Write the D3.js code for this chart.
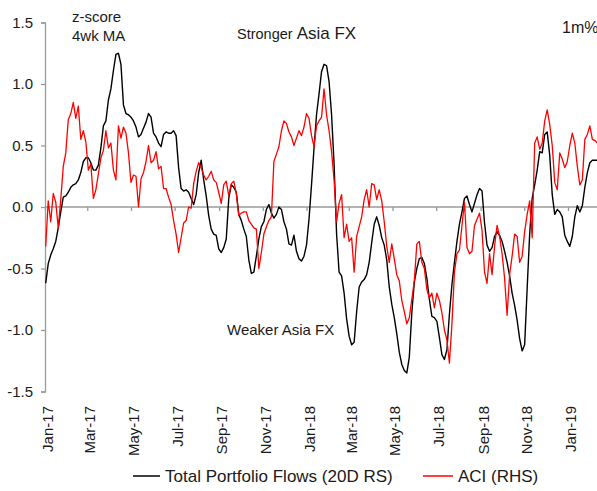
<!DOCTYPE html>
<html>
<head>
<meta charset="utf-8">
<script src="https://cdn.jsdelivr.net/npm/d3@7"></script>
<style>
  html, body { margin: 0; padding: 0; background: #fff; }
  svg { display: block; font-family: "Liberation Sans", Arial, sans-serif; }
</style>
</head>
<body>
<svg id="chart" width="597" height="491"></svg>
<script>
// ---- data ----
const seriesStart = "2017-01-02";   // first observation
const stepHours = 84;               // observations every 3.5 days

const totalPortfolioFlows = [
-0.62,-0.46,-0.39,-0.34,-0.28,-0.17,-0.04,0.08,0.09,0.12,
0.16,0.18,0.19,0.22,0.28,0.37,0.40,0.40,0.36,0.30,
0.30,0.34,0.48,0.66,0.70,0.87,0.96,1.11,1.24,1.25,
1.16,0.83,0.76,0.75,0.73,0.70,0.65,0.57,0.59,0.64,
0.69,0.76,0.73,0.60,0.57,0.52,0.49,0.59,0.61,0.60,
0.60,0.62,0.58,0.32,0.15,0.13,0.14,0.12,0.07,0.02,
0.10,0.28,0.38,0.22,0.09,-0.07,-0.18,-0.22,-0.23,-0.34,
-0.37,-0.33,-0.26,0.07,0.18,0.16,0.12,-0.06,-0.11,-0.18,
-0.24,-0.43,-0.54,-0.53,-0.40,-0.26,-0.16,-0.12,-0.02,0.02,
-0.05,-0.09,-0.06,0.00,-0.02,-0.12,-0.18,-0.30,-0.31,-0.23,
-0.36,-0.42,-0.44,-0.40,-0.31,-0.10,0.18,0.48,0.75,0.92,
1.10,1.16,1.15,1.02,0.75,0.35,-0.22,-0.53,-0.56,-0.70,
-0.91,-1.05,-1.12,-1.10,-0.85,-0.65,-0.61,-0.59,-0.55,-0.45,
-0.29,-0.14,-0.08,-0.15,-0.25,-0.31,-0.43,-0.65,-0.79,-0.90,
-1.03,-1.18,-1.28,-1.33,-1.35,-1.22,-0.86,-0.61,-0.50,-0.42,
-0.41,-0.46,-0.58,-0.75,-0.89,-0.90,-0.93,-1.06,-1.20,-1.24,
-1.16,-0.87,-0.63,-0.45,-0.28,-0.14,-0.04,0.07,0.09,0.02,
-0.04,0.03,0.10,0.15,0.13,-0.13,-0.31,-0.36,-0.33,-0.24,
-0.20,-0.23,-0.28,-0.36,-0.45,-0.56,-0.70,-0.80,-0.92,-1.07,
-1.17,-1.12,-0.66,-0.22,0.07,0.18,0.30,0.45,0.44,0.59,
0.61,0.42,0.10,-0.06,-0.02,-0.04,-0.08,-0.23,-0.28,-0.32,
-0.24,-0.08,0.01,-0.04,0.01,0.16,0.28,0.36,0.38,0.38,
0.38];

const aciRHS = [
-0.32,0.05,-0.12,0.11,0.04,-0.17,0.06,0.33,0.44,0.71,
0.76,0.85,0.72,0.82,0.55,0.62,0.53,0.30,0.35,0.07,
0.14,0.27,0.40,0.46,0.62,0.48,0.52,0.30,0.22,0.66,
0.56,0.65,0.60,0.44,0.20,0.26,0.25,0.00,0.23,0.28,
0.37,0.50,0.36,0.38,0.45,0.31,0.33,0.15,0.15,0.08,
0.02,-0.11,-0.22,-0.37,-0.25,-0.13,-0.11,0.00,-0.01,0.19,
0.29,0.36,0.32,0.26,0.22,0.25,0.29,0.22,0.20,0.12,
0.03,0.18,0.21,0.09,0.19,0.21,0.11,-0.07,-0.05,-0.04,
-0.04,-0.11,-0.14,-0.17,-0.18,-0.50,-0.37,-0.22,-0.16,-0.11,
-0.08,0.37,0.43,0.49,0.62,0.70,0.68,0.61,0.57,0.50,
0.56,0.62,0.58,0.65,0.76,0.72,0.58,0.49,0.66,0.70,
0.73,0.96,0.75,0.62,0.45,0.22,-0.12,0.03,0.10,-0.25,
-0.14,-0.28,-0.25,-0.53,-0.24,-0.16,-0.08,0.06,0.14,0.00,
0.19,0.18,0.06,0.14,0.05,-0.12,-0.32,-0.45,-0.30,-0.42,
-0.55,-0.60,-0.76,-0.85,-0.95,-0.90,-0.75,-0.60,-0.30,-0.28,
-0.45,-0.50,-0.67,-0.74,-0.70,-0.82,-0.70,-0.76,-0.86,-1.00,
-1.08,-1.27,-0.95,-0.53,-0.38,-0.35,-0.15,0.04,-0.33,-0.38,
-0.36,-0.15,-0.10,-0.05,-0.19,-0.53,-0.62,-0.38,-0.55,-0.32,
-0.15,-0.24,-0.38,-0.58,-0.88,-0.55,-0.40,-0.22,-0.24,-0.45,
-0.40,-0.20,-0.06,0.05,-0.25,0.52,0.57,0.47,0.52,0.70,
0.79,0.67,0.50,0.20,0.14,0.44,0.39,0.32,0.37,0.50,
0.60,0.52,0.33,0.18,0.22,0.55,0.59,0.66,0.55,0.54,
0.52];

const xTickLabels = ["Jan-17","Mar-17","May-17","Jul-17","Sep-17","Nov-17",
  "Jan-18","Mar-18","May-18","Jul-18","Sep-18","Nov-18","Jan-19"];
const yTickValues = [-1.5, -1.0, -0.5, 0.0, 0.5, 1.0, 1.5];
const seriesNames = ["Total Portfolio Flows (20D RS)", "ACI (RHS)"];
const seriesColors = ["#000000", "#ff0000"];

// ---- layout ----
const W = 597, H = 491;
const plotLeft = 45, plotTop = 22.5, plotBottom = 391.5;
const jan19X = 568;

const svg = d3.select("#chart");
svg.append("rect").attr("width", W).attr("height", H).attr("fill", "#fff");

const parseStart = d3.utcParse("%Y-%m-%d");
const parseTick = d3.utcParse("%b-%y");
const t0 = parseStart(seriesStart);
const dates = totalPortfolioFlows.map((_, i) => d3.utcHour.offset(t0, stepHours * i));
const tickDates = xTickLabels.map(s => parseTick(s));

const x = d3.scaleUtc()
  .domain([tickDates[0], tickDates[tickDates.length - 1]])
  .range([plotLeft, jan19X]);
const y = d3.scaleLinear().domain([-1.5, 1.5]).range([plotBottom, plotTop]);

const axisColor = "#9a9a9a";

// y axis
const yAxis = svg.append("g")
  .attr("transform", `translate(${plotLeft},0)`)
  .call(d3.axisLeft(y).tickValues(yTickValues).tickSize(4).tickPadding(8)
    .tickFormat(d => d.toFixed(1)));
yAxis.select(".domain").attr("stroke", axisColor).attr("stroke-width", 1.3);
yAxis.selectAll(".tick line").attr("stroke", axisColor).attr("stroke-width", 1.3);
yAxis.selectAll(".tick text")
  .attr("font-size", 15).attr("fill", "#1a1a1a")
  .attr("font-family", "'Liberation Sans', Arial, sans-serif");

// x axis on the zero line
const xAxis = svg.append("g")
  .attr("transform", `translate(0,${y(0)})`)
  .call(d3.axisBottom(x).tickValues(tickDates).tickSize(4).tickSizeOuter(0)
    .tickFormat(() => ""));
xAxis.select(".domain").attr("stroke", axisColor).attr("stroke-width", 1.3)
  .attr("d", `M${plotLeft},0H${W + 5}`);
xAxis.selectAll(".tick line").attr("stroke", axisColor).attr("stroke-width", 1.3);

// rotated month labels at the bottom
svg.append("g").selectAll("text")
  .data(tickDates)
  .join("text")
  .attr("transform", (d) => `translate(${x(d) + 8},406) rotate(-90)`)
  .attr("text-anchor", "end")
  .attr("font-size", 15)
  .attr("fill", "#1a1a1a")
  .text((d, i) => xTickLabels[i]);

// lines
const line = d3.line().x((d, i) => x(dates[i])).y(d => y(d));
svg.append("path").datum(totalPortfolioFlows)
  .attr("d", line).attr("fill", "none")
  .attr("stroke", seriesColors[0]).attr("stroke-width", 1.4)
  .attr("stroke-linejoin", "round");
svg.append("path").datum(aciRHS)
  .attr("d", line).attr("fill", "none")
  .attr("stroke", seriesColors[1]).attr("stroke-width", 1.3)
  .attr("stroke-linejoin", "round");

// annotations
const ann = svg.append("g").attr("fill", "#1a1a1a");
ann.append("text").attr("x", 72).attr("y", 22).attr("font-size", 15).text("z-score");
ann.append("text").attr("x", 72).attr("y", 41).attr("font-size", 15).text("4wk MA");
const strong = ann.append("text").attr("x", 237).attr("y", 39);
strong.append("tspan").attr("font-size", 14.5).text("Stronger ");
strong.append("tspan").attr("font-size", 17).text("Asia FX");
ann.append("text").attr("x", 562).attr("y", 33).attr("font-size", 16).text("1m%");
ann.append("text").attr("x", 227).attr("y", 335).attr("font-size", 15).text("Weaker Asia FX");

// legend
const legendItems = [
  { x1: 133, x2: 160, tx: 165 },
  { x1: 423, x2: 453, tx: 458 }
];
const leg = svg.append("g");
legendItems.forEach((it, i) => {
  leg.append("line").attr("x1", it.x1).attr("x2", it.x2)
    .attr("y1", 476).attr("y2", 476)
    .attr("stroke", seriesColors[i]).attr("stroke-width", 1.5);
  leg.append("text").attr("x", it.tx).attr("y", 482)
    .attr("font-size", 17).attr("fill", "#1a1a1a").text(seriesNames[i]);
});
</script>
</body>
</html>
